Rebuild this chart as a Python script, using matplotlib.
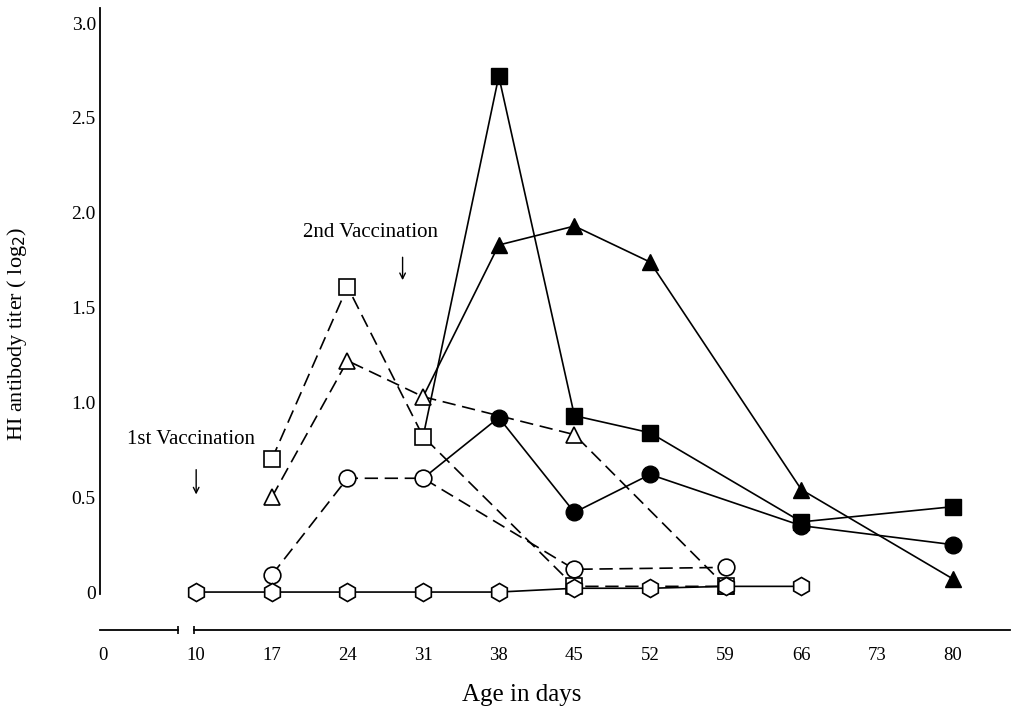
import matplotlib
matplotlib.use("Agg")
import matplotlib.pyplot as plt

# --- data (age in days, HI titer log2) ---
days_ticks = [0, 10, 17, 24, 31, 38, 45, 52, 59, 66, 73, 80]

# control group (open hexagon, solid)
ctrl_days = [10, 17, 24, 31, 38, 45, 52, 59, 66]
ctrl_vals = [0.0, 0.0, 0.0, 0.0, 0.0, 0.02, 0.02, 0.03, 0.03]

# single vaccination groups (open symbols, dashed)
osq_days = [17, 24, 31, 45, 59]
osq_vals = [0.70, 1.61, 0.82, 0.03, 0.03]
otri_days = [17, 24, 31, 45, 59]
otri_vals = [0.50, 1.22, 1.03, 0.83, 0.03]
ocir_days = [17, 24, 31, 45, 59]
ocir_vals = [0.09, 0.60, 0.60, 0.12, 0.13]

# after 2nd vaccination (filled symbols, solid) - start from day 31 value
fsq_days = [31, 38, 45, 52, 66, 80]
fsq_vals = [0.82, 2.72, 0.93, 0.84, 0.37, 0.45]
ftri_days = [31, 38, 45, 52, 66, 80]
ftri_vals = [1.03, 1.83, 1.93, 1.74, 0.54, 0.07]
fcir_days = [31, 38, 45, 52, 66, 80]
fcir_vals = [0.60, 0.92, 0.42, 0.62, 0.35, 0.25]

# day 0 sits left of the axis break
ZERO_POS = 1.4

plt.rcParams['font.family'] = ['Liberation Serif', 'DejaVu Serif']

fig = plt.figure(figsize=(10.13, 7.12), dpi=100)
ax = fig.add_axes([0.0987, 0.1152, 0.8983, 0.8736])

dash = (0, (8, 4))
lw = 1.2
ms = 11

# filled series (solid), no marker on the shared day-31 point
ax.plot(fsq_days, fsq_vals, color='black', lw=lw, marker='s', ms=ms,
        markevery=list(range(1, len(fsq_days))), zorder=2)
ax.plot(ftri_days, ftri_vals, color='black', lw=lw, marker='^', ms=ms,
        markevery=list(range(1, len(ftri_days))), zorder=2)
ax.plot(fcir_days, fcir_vals, color='black', lw=lw, marker='o', ms=ms + 1,
        markevery=list(range(1, len(fcir_days))), zorder=2)

# open series (dashed)
ax.plot(osq_days, osq_vals, color='black', lw=lw, ls=dash, marker='s', ms=ms,
        mfc='white', mec='black', mew=1.2, zorder=3)
ax.plot(otri_days, otri_vals, color='black', lw=lw, ls=dash, marker='^', ms=ms,
        mfc='white', mec='black', mew=1.2, zorder=3)
ax.plot(ocir_days, ocir_vals, color='black', lw=lw, ls=dash, marker='o', ms=ms + 1,
        mfc='white', mec='black', mew=1.2, zorder=3)
ax.plot(ctrl_days, ctrl_vals, color='black', lw=lw, marker='h', ms=ms + 2,
        mfc='white', mec='black', mew=1.2, zorder=3)

# axes
ax.set_xlim(1.1, 85.3)
ax.set_ylim(-0.2, 3.08)
for s in ['top', 'right', 'bottom']:
    ax.spines[s].set_visible(False)
ax.spines['left'].set_bounds(-0.01, 3.08)
ax.spines['left'].set_linewidth(1.3)

# broken x axis
ax.plot([ZERO_POS - 0.3, 8.3], [-0.2, -0.2], color='black', lw=1.3, clip_on=False)
ax.plot([9.8, 85.3], [-0.2, -0.2], color='black', lw=1.3, clip_on=False)
ax.plot([8.3, 9.8], [-0.2, -0.2], ls='none', marker='|', ms=6, mew=1.2,
        color='black', clip_on=False)

xpos = [ZERO_POS] + days_ticks[1:]
ax.set_xticks(xpos)
ax.set_xticklabels([str(d) for d in days_ticks])
ax.set_yticks([0, 0.5, 1.0, 1.5, 2.0, 2.5, 3.0])
ax.set_yticklabels(['0', '0.5', '1.0', '1.5', '2.0', '2.5', '3.0'])
ax.tick_params(axis='x', length=0, pad=12, labelsize=13.5)
ax.tick_params(axis='y', length=0, pad=3, labelsize=14)

ax.set_xlabel("Age in days", fontsize=18, va='center')
ax.xaxis.set_label_coords(0.463, -0.104)
ax.set_ylabel("HI antibody titer ( log$_2$)", fontsize=16, va='center')
ax.yaxis.set_label_coords(-0.091, 0.477)

# vaccination marks
ax.text(9.5, 0.805, "1st Vaccination", ha='center', va='center', fontsize=15)
ax.annotate('', xy=(10, 0.5), xytext=(10, 0.66),
            arrowprops=dict(arrowstyle='->', lw=1.0, color='black'))
ax.text(26.1, 1.895, "2nd Vaccination", ha='center', va='center', fontsize=15)
ax.annotate('', xy=(29.1, 1.63), xytext=(29.1, 1.78),
            arrowprops=dict(arrowstyle='->', lw=1.0, color='black'))

fig.savefig("out.png", dpi=100)
